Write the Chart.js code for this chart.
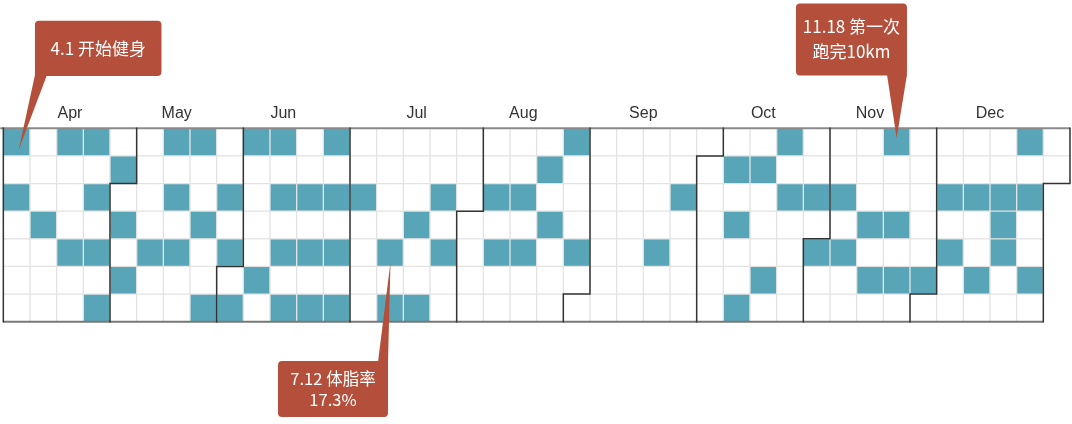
<!DOCTYPE html>
<html><head><meta charset="utf-8">
<script src="https://cdn.jsdelivr.net/npm/chart.js@4/dist/chart.umd.min.js"></script>
<style>html,body{margin:0;padding:0;background:#fff}#wrap{width:1072px;height:424px;position:relative}</style>
</head><body><div id="wrap"><canvas id="c"></canvas></div>
<script>
// ---- data ----
const YEAR = 2018;
const monthLabels = ['Apr', 'May', 'Jun', 'Jul', 'Aug', 'Sep', 'Oct', 'Nov', 'Dec'];
const monthNumbers = [4, 5, 6, 7, 8, 9, 10, 11, 12];
const aprDays = [1, 3, 11, 15, 19, 22, 24, 26, 28, 30];
const mayDays = [2, 4, 10, 13, 15, 17, 20, 23, 26, 29, 31];
const junDays = [2, 3, 8, 10, 12, 14, 16, 19, 21, 23, 24, 26, 28, 30];
const julDays = [3, 12, 14, 18, 21, 24, 26];
const augDays = [7, 9, 14, 16, 20, 22, 26, 30];
const sepDays = [20, 25];
const octDays = [8, 10, 13, 15, 19, 21, 23, 30];
const novDays = [1, 6, 8, 14, 16, 18, 21, 23, 30];
const decDays = [4, 6, 11, 14, 18, 19, 20, 23, 25, 28];
const noteDates = ['2018-04-01', '2018-07-12', '2018-11-18'];
const noteTexts = [['4.1 开始健身'], ['7.12 体脂率', '17.3%'], ['11.18 第一次', '跑完10km']];

// ---- calendar geometry (derived from dates) ----
const activeByMonth = [aprDays, mayDays, junDays, julDays, augDays, sepDays, octDays, novDays, decDays];
const DAY = 86400000;
const rangeStart = Date.UTC(YEAR, monthNumbers[0] - 1, 1);
const rangeEnd = Date.UTC(YEAR, monthNumbers[monthNumbers.length - 1], 0);
const startDow = new Date(rangeStart).getUTCDay();
function cellOf(ts) {
  const i = Math.round((ts - rangeStart) / DAY) + startDow;
  return { col: Math.floor(i / 7), row: i % 7 };
}
const activeSet = new Set();
monthNumbers.forEach((m, k) => activeByMonth[k].forEach(d => activeSet.add(Date.UTC(YEAR, m - 1, d))));
const numCols = cellOf(rangeEnd).col + 1;

const TEAL = '#58a5b8';
const cellData = [], cellColors = [];
for (let t = rangeStart; t <= rangeEnd; t += DAY) {
  const c = cellOf(t);
  cellData.push({ x: c.col + 0.5, y: [c.row, c.row + 1] });
  cellColors.push(activeSet.has(t) ? TEAL : '#ffffff');
}

// month boundaries & label centres
const monthCenters = [];
const splitLines = [];
monthNumbers.forEach((m, k) => {
  const s = cellOf(Date.UTC(YEAR, m - 1, 1));
  const e = cellOf(Date.UTC(YEAR, m, 0));
  monthCenters.push((s.col + e.col + 1) / 2);
  if (s.row === 0) splitLines.push([{ x: s.col, y: 7 }, { x: s.col, y: 0 }]);
  else splitLines.push([{ x: s.col, y: 7 }, { x: s.col, y: s.row }, { x: s.col + 1, y: s.row }, { x: s.col + 1, y: 0 }]);
  if (k === monthNumbers.length - 1) {
    if (e.row === 6) splitLines.push([{ x: e.col + 1, y: 0 }, { x: e.col + 1, y: 7 }]);
    else splitLines.push([{ x: e.col + 1, y: 0 }, { x: e.col + 1, y: e.row + 1 }, { x: e.col, y: e.row + 1 }, { x: e.col, y: 7 }]);
  }
});
const lastCell = cellOf(rangeEnd);
const bottomEnd = lastCell.row === 6 ? lastCell.col + 1 : lastCell.col;

const datasets = [{
  type: 'bar', data: cellData, backgroundColor: cellColors,
  borderColor: '#e3e3e3', borderWidth: 1, borderSkipped: false,
  grouped: false, barPercentage: 1, categoryPercentage: 1, order: 5
}];
datasets.push({ type: 'line', data: [{ x: -0.12, y: 0 }, { x: numCols, y: 0 }], borderColor: '#8a8a8a', borderWidth: 2, pointRadius: 0, fill: false, tension: 0, clip: 6, order: 1 });
datasets.push({ type: 'line', data: [{ x: 0, y: 7 }, { x: bottomEnd, y: 7 }], borderColor: '#777', borderWidth: 2, pointRadius: 0, fill: false, tension: 0, clip: 6, order: 1 });
splitLines.forEach(pts => datasets.push({ type: 'line', data: pts, borderColor: '#333', borderWidth: 1.5, pointRadius: 0, fill: false, tension: 0, clip: 6, order: 0, borderJoinStyle: 'miter', borderCapStyle: 'square' }));

// ---- callouts ----
const calloutLayout = [
  { box: [18.3, -121.3, 126.5, 55.3], side: 'bottom', b0: 0, b1: 12, tip: [2, 8], radii: [4, 4, 4, 0], gap: 25, size: 17 },
  { box: [-112, 108.4, 110, 56], side: 'top', b0: 100, b1: 110, tip: [0.5, 9.5], radii: [4, 0, 4, 4], gap: 21, size: 16.5 },
  { box: [-100.7, -138.7, 111, 72], side: 'bottom', b0: 91, b1: 111, tip: [0, -4], radii: [4, 4, 0, 4], gap: 25, size: 17 }
];
const calloutPlugin = {
  id: 'callouts',
  afterDraw(chart) {
    const ctx = chart.ctx, xs = chart.scales.x, ys = chart.scales.y;
    noteDates.forEach((ds, i) => {
      const p = ds.split('-').map(Number);
      const c = cellOf(Date.UTC(p[0], p[1] - 1, p[2]));
      const cx = xs.getPixelForValue(c.col + 0.5), cy = ys.getPixelForValue(c.row + 0.5);
      const L = calloutLayout[i];
      const bx = cx + L.box[0], by = cy + L.box[1], bw = L.box[2], bh = L.box[3];
      ctx.save();
      ctx.fillStyle = '#b44f3b';
      ctx.beginPath();
      ctx.roundRect(bx, by, bw, bh, L.radii);
      ctx.fill();
      ctx.beginPath();
      const ey = L.side === 'bottom' ? by + bh - 1 : by + 1;
      ctx.moveTo(bx + L.b0, ey);
      ctx.lineTo(bx + L.b1, ey);
      ctx.lineTo(cx + L.tip[0], cy + L.tip[1]);
      ctx.closePath();
      ctx.fill();
      ctx.fillStyle = '#ffffff';
      ctx.font = L.size + 'px "Noto Sans CJK SC", sans-serif';
      ctx.textAlign = 'center';
      ctx.textBaseline = 'middle';
      const lines = noteTexts[i];
      const midY = by + bh / 2;
      lines.forEach((t, j) => {
        ctx.fillText(t, bx + bw / 2, midY + (j - (lines.length - 1) / 2) * L.gap);
      });
      ctx.restore();
    });
  }
};

new Chart(document.getElementById('c'), {
  type: 'bar',
  data: { datasets },
  options: {
    responsive: true, maintainAspectRatio: false, animation: false,
    layout: { padding: { left: 3.33, right: 2, top: 99.7, bottom: 102.3 } },
    plugins: { legend: { display: false }, tooltip: { enabled: false } },
    scales: {
      x: { type: 'linear', min: 0, max: numCols, offset: false, display: false, ticks: { stepSize: 1 } },
      x2: {
        type: 'linear', position: 'top', min: 0, max: numCols, offset: false,
        grid: { display: false, drawTicks: false }, border: { display: false },
        afterBuildTicks: (axis) => { axis.ticks = monthCenters.map(v => ({ value: v })); },
        ticks: {
          autoSkip: false, maxRotation: 0, padding: 4.7, color: '#333',
          font: { size: 16, family: '"Liberation Sans", Arial, sans-serif' },
          callback: (v, i) => monthLabels[i]
        }
      },
      y: { type: 'linear', min: 0, max: 7, reverse: true, display: false }
    }
  },
  plugins: [calloutPlugin]
});
</script></body></html>
